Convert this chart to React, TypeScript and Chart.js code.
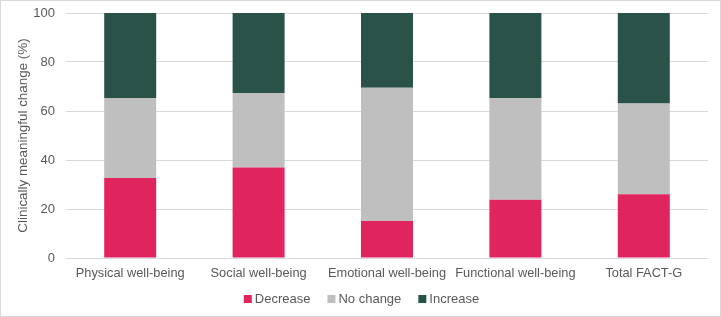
import React, { useEffect, useRef } from "react";
import { Chart, registerables } from "chart.js";

Chart.register(...registerables);

const categories = [
  "Physical well-being",
  "Social well-being",
  "Emotional well-being",
  "Functional well-being",
  "Total FACT-G",
];
const decrease = [32.7, 36.9, 15.1, 23.8, 26.0];
const noChange = [32.6, 30.4, 54.4, 41.4, 37.1];
const increase = [34.7, 32.7, 30.5, 34.8, 36.9];
const yTicks = [0, 20, 40, 60, 80, 100];

const FONT = "'Liberation Sans', Arial, sans-serif";
const TEXT = "#595959";

// Bottom legend: small square swatches sitting close to their labels.
const legendPlugin = {
  id: "bottomLegend",
  afterDraw(chart: any) {
    const { ctx, width } = chart;
    const items = chart.data.datasets.map((d: any) => ({
      label: d.label as string,
      color: d.backgroundColor as string,
    }));
    ctx.save();
    ctx.font = `13px ${FONT}`;
    ctx.textBaseline = "middle";
    const box = 8;
    const gap = 3;
    const itemGap = 17;
    const widths = items.map((it: any) => box + gap + ctx.measureText(it.label).width);
    const total = widths.reduce((a: number, b: number) => a + b, 0) + itemGap * (items.length - 1);
    let x = width / 2 + 1 - total / 2;
    const y = 298;
    items.forEach((it: any, i: number) => {
      ctx.fillStyle = it.color;
      ctx.fillRect(x, y - box / 2, box, box);
      ctx.fillStyle = TEXT;
      ctx.textAlign = "left";
      ctx.fillText(it.label, x + box + gap, y + 0.5);
      x += widths[i] + itemGap;
    });
    ctx.restore();
  },
};

export default function App() {
  const ref = useRef<HTMLCanvasElement>(null);

  useEffect(() => {
    document.body.style.margin = "0";
    const ctx = ref.current!;
    const chart = new Chart(ctx, {
      type: "bar",
      data: {
        labels: categories,
        datasets: [
          { label: "Decrease", data: decrease, backgroundColor: "#e0245e" },
          { label: "No change", data: noChange, backgroundColor: "#bfbfbf" },
          { label: "Increase", data: increase, backgroundColor: "#2a5248" },
        ].map((d) => ({
          ...d,
          borderWidth: 0,
          barPercentage: 0.405,
          categoryPercentage: 1,
        })),
      },
      options: {
        animation: false,
        responsive: false,
        maintainAspectRatio: false,
        layout: { padding: { left: 7, right: 12, top: 0, bottom: 28 } },
        font: { family: FONT },
        plugins: {
          tooltip: { enabled: false },
          legend: { display: false },
        },
        scales: {
          x: {
            stacked: true,
            grid: { display: false, drawTicks: false },
            border: { display: false },
            ticks: { font: { family: FONT, size: 12.8 }, color: TEXT, padding: 8, maxRotation: 0 },
            afterFit: (axis: any) => {
              axis.height = 30;
            },
          },
          y: {
            stacked: true,
            min: 0,
            max: 100,
            afterBuildTicks: (axis: any) => {
              axis.ticks = yTicks.map((v) => ({ value: v }));
            },
            afterFit: (axis: any) => {
              axis.width = 58;
              axis.paddingTop = 12;
              axis.paddingBottom = 0;
            },
            grid: { color: "#d9d9d9", drawTicks: false, lineWidth: 1 },
            border: { display: false },
            ticks: { font: { family: FONT, size: 13 }, color: TEXT, padding: 11 },
            title: {
              display: true,
              text: "Clinically meaningful change (%)",
              font: { family: FONT, size: 13.4 },
              color: TEXT,
              padding: { top: 7, bottom: 0 },
            },
          },
        },
      },
      plugins: [legendPlugin],
    });
    return () => chart.destroy();
  }, []);

  return (
    <div
      style={{
        position: "absolute",
        left: 0,
        top: 0,
        width: 721,
        height: 317,
        boxSizing: "border-box",
        border: "1px solid #d9d9d9",
        background: "#fff",
      }}
    >
      <canvas ref={ref} width={719} height={315} style={{ display: "block" }} />
    </div>
  );
}
